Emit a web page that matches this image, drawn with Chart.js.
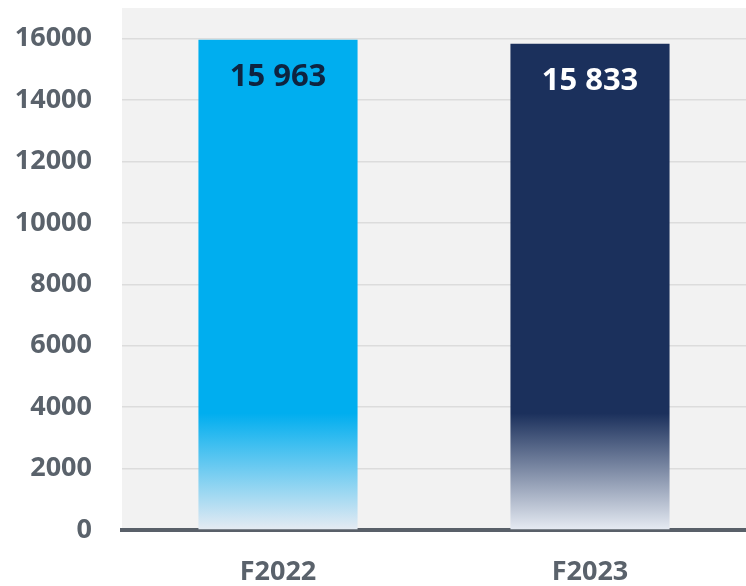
<!DOCTYPE html>
<html>
<head>
<meta charset="utf-8">
<script src="https://cdn.jsdelivr.net/npm/chart.js@4"></script>
<style>
  html, body { margin: 0; padding: 0; background: #ffffff; }
  #wrap { width: 746px; height: 586px; position: relative; }
</style>
</head>
<body>
<div id="wrap"><canvas id="chart"></canvas></div>
<script>
const categories = ['F2022', 'F2023'];
const values = [15963, 15833];
const valueLabels = ['15 963', '15 833'];
const barColors = ['#00aeef', '#1b305c'];
const labelColors = ['#0e2440', '#ffffff'];
const fadeColor = '#e6ebf3';
const fadeTop = 3800; // value where the bars become solid

const FONT = '"Open Sans", Lato, sans-serif';

function barGradient(context) {
  const chart = context.chart;
  const area = chart.chartArea;
  if (!area) return barColors[context.dataIndex];
  const y = chart.scales.y;
  const g = chart.ctx.createLinearGradient(0, y.getPixelForValue(0), 0, y.getPixelForValue(fadeTop));
  g.addColorStop(0, fadeColor);
  g.addColorStop(1, barColors[context.dataIndex]);
  return g;
}

const plotBackground = {
  id: 'plotBackground',
  beforeDraw(chart) {
    const { ctx, chartArea } = chart;
    ctx.save();
    ctx.fillStyle = '#f2f2f2';
    ctx.fillRect(chartArea.left, chartArea.top, chartArea.right - chartArea.left, chartArea.bottom - chartArea.top);
    ctx.restore();
  }
};

const valueLabelsPlugin = {
  id: 'valueLabels',
  afterDatasetsDraw(chart) {
    const { ctx } = chart;
    const meta = chart.getDatasetMeta(0);
    ctx.save();
    ctx.font = '700 31px ' + FONT;
    ctx.textAlign = 'center';
    ctx.textBaseline = 'middle';
    meta.data.forEach((bar, i) => {
      ctx.fillStyle = labelColors[i];
      ctx.fillText(valueLabels[i], bar.x, bar.y + 37);
    });
    ctx.restore();
  }
};

new Chart(document.getElementById('chart'), {
  type: 'bar',
  data: {
    labels: categories,
    datasets: [{
      data: values,
      backgroundColor: barGradient,
      borderWidth: 0,
      categoryPercentage: 1,
      barPercentage: 0.51
    }]
  },
  options: {
    responsive: true,
    maintainAspectRatio: false,
    animation: false,
    layout: { padding: { top: 8, right: -4, left: 0, bottom: 0 } },
    plugins: {
      legend: { display: false },
      tooltip: { enabled: false }
    },
    scales: {
      x: {
        grid: { display: false, drawTicks: false },
        border: { display: true, color: '#596069', width: 4 },
        ticks: {
          color: '#5a626b',
          font: { family: FONT, size: 27, weight: 700 },
          padding: 26
        },
        afterFit(axis) {
          axis.height = 56;
          axis.paddingLeft = 0;
          axis.paddingRight = 0;
        }
      },
      y: {
        min: 0,
        max: 17000,
        grid: {
          color: ctx => (ctx.tick && ctx.tick.value % 2000 === 0) ? '#dcdcdc' : 'rgba(0,0,0,0)',
          lineWidth: 1.5,
          drawTicks: false
        },
        border: { display: false },
        ticks: {
          stepSize: 1000,
          autoSkip: false,
          color: '#5a626b',
          font: { family: FONT, size: 27, weight: 700 },
          padding: 30,
          callback: v => (v % 2000 === 0 ? String(v) : '')
        },
        afterFit(axis) {
          axis.width = 122;
          axis.paddingTop = 0;
          axis.paddingBottom = 0;
        }
      }
    }
  },
  plugins: [plotBackground, valueLabelsPlugin]
});
</script>
</body>
</html>
